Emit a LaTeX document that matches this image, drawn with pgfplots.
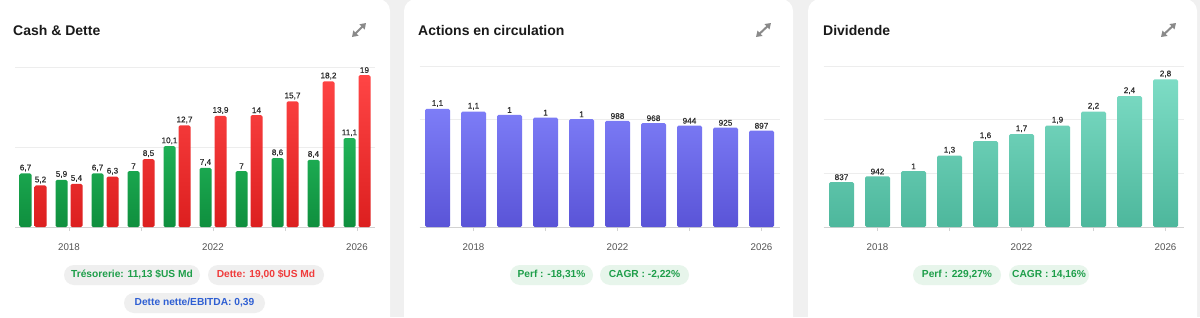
\documentclass[border=0pt]{standalone}
\usepackage{pgfplots}
\pgfplotsset{compat=1.18}
\usepackage{pgfplotstable}
\usepackage{fontspec}
\setmainfont{Liberation Sans}
\newfontfamily\semib[FakeBold=0.35]{Liberation Sans}
\usetikzlibrary{arrows.meta}

\definecolor{pagebg}{HTML}{F0F0F0}
\definecolor{gridc}{HTML}{EDEDED}
\definecolor{axisc}{HTML}{D2D2D2}
\definecolor{tickc}{HTML}{555555}
\definecolor{greenTop}{HTML}{20B358}
\definecolor{greenBot}{HTML}{0F8F3E}
\definecolor{redTop}{HTML}{FF4545}
\definecolor{redBot}{HTML}{DC1F1F}
\definecolor{purpTop}{HTML}{7D7DF7}
\definecolor{purpBot}{HTML}{5A54D7}
\definecolor{tealTop}{HTML}{7DDCC5}
\definecolor{tealBot}{HTML}{4DB79C}
\definecolor{pillgray}{HTML}{EFEFEF}
\definecolor{pillgreen}{HTML}{E7F5EB}
\definecolor{txtgreen}{HTML}{1E9E4A}
\definecolor{txtred}{HTML}{F03C3C}
\definecolor{txtblue}{HTML}{2F5FD3}
\definecolor{titlec}{HTML}{1A1A1A}
\definecolor{iconc}{HTML}{8A8A8A}
\definecolor{labc}{HTML}{2B2B2B}

\pgfplotstableread{
x cash cashlab debt debtlab
2017 6.7 6,7 5.2 5,2
2018 5.9 5,9 5.4 5,4
2019 6.7 6,7 6.3 6,3
2020 7.0 7 8.5 8,5
2021 10.1 10,1 12.7 12,7
2022 7.4 7,4 13.9 13,9
2023 7.0 7 14.0 14
2024 8.6 8,6 15.7 15,7
2025 8.4 8,4 18.2 18,2
2026 11.1 11,1 19.0 19
}\cashdata

\pgfplotstableread{
x y lab
2017 1100 1,1
2018 1075 1,1
2019 1045 1
2020 1020 1
2021 1005 1
2022 988 988
2023 968 968
2024 944 944
2025 925 925
2026 897 897
}\sharesdata

\pgfplotstableread{
x y lab
2017 0.837 837
2018 0.942 942
2019 1.04 1
2020 1.33 1,3
2021 1.60 1,6
2022 1.73 1,7
2023 1.89 1,9
2024 2.15 2,2
2025 2.44 2,4
2026 2.75 2,8
}\divdata

\pgfplotsset{
  panel/.style={
    scale only axis, width=360pt, anchor=south west,
    xmin=2016.5, xmax=2026.5,
    axis x line*=bottom, axis y line*=left,
    y axis line style={draw=none},
    x axis line style={draw=axisc, line width=0.8pt},
    xtick={2018,2020,2022,2024,2026},
    xticklabels={2018,,2022,,2026},
    tick align=outside, major tick length=4pt,
    xtick style={draw=axisc, line width=0.8pt},
    ytick style={draw=none},
    yticklabels={}, scaled y ticks=false,
    ymajorgrids, grid style={draw=gridc, line width=0.8pt},
    xticklabel style={font=\fontsize{9.75}{11}\selectfont, text=tickc, yshift=-9pt},
    clip=false,
    ybar,
    point meta=explicit symbolic,
    nodes near coords,
    every node near coord/.append style={font=\semib\fontsize{8.2}{9}\selectfont, text=labc, inner sep=1.8pt},
  },
}
\tikzset{
  pill/.style={rounded corners=10pt, minimum height=20pt, inner sep=0pt,
    font=\bfseries\fontsize{10.2}{12}\selectfont},
  ttl/.style={anchor=base west, inner sep=0pt, font=\bfseries\fontsize{14}{16}\selectfont, text=titlec},
  icon/.style={draw=iconc, line width=2pt, {Triangle[width=7pt,length=5.5pt]}-{Triangle[width=7pt,length=5.5pt]}},
}

\begin{document}
\begin{tikzpicture}[x=1pt,y=1pt]
\useasboundingbox (0,0) rectangle (1200,317);
\clip (0,0) rectangle (1200,317);
\fill[pagebg] (0,0) rectangle (1200,317);
\fill[white, rounded corners=12pt] (-20,-20) rectangle (390,318);
\fill[white, rounded corners=12pt] (404,-20) rectangle (793,318);
\fill[white, rounded corners=12pt] (808,-20) rectangle (1197,318);

% titles
\node[ttl] at (13,282) {Cash \& Dette};
\node[ttl] at (418,282) {Actions en circulation};
\node[ttl] at (823,282) {Dividende};

% icons
\draw[icon] (352,280) -- (366,294);
\draw[icon] (756,280) -- (771,294);
\draw[icon] (1161,280) -- (1176,294);

% Panel 1
\begin{axis}[panel, at={(15pt,90pt)}, height=160pt, ymin=0, ymax=20, ytick={0,10,20}]
\addplot[draw=none, top color=greenTop, bottom color=greenBot, bar width=12pt, bar shift=-7.5pt, rounded corners=1.5pt]
  table[x=x, y=cash, meta=cashlab] {\cashdata};
\addplot[draw=none, top color=redTop, bottom color=redBot, bar width=12pt, bar shift=7.5pt, rounded corners=1.5pt]
  table[x=x, y=debt, meta=debtlab] {\cashdata};
\end{axis}

% Panel 2
\begin{axis}[panel, at={(419.5pt,90pt)}, height=161pt, ymin=0, ymax=1500, ytick={0,500,1000,1500}]
\addplot[draw=none, top color=purpTop, bottom color=purpBot, bar width=25pt, bar shift=0pt, rounded corners=1.5pt]
  table[x=x, y=y, meta=lab] {\sharesdata};
\end{axis}

% Panel 3
\begin{axis}[panel, at={(823.5pt,90pt)}, height=161pt, ymin=0, ymax=3, ytick={0,1,2,3}]
\addplot[draw=none, top color=tealTop, bottom color=tealBot, bar width=25pt, bar shift=0pt, rounded corners=1.5pt]
  table[x=x, y=y, meta=lab] {\divdata};
\end{axis}

% pills
\node[pill, fill=pillgray, minimum width=136pt, text=txtgreen] at (132,42) {Trésorerie: 11,13 \$US Md};
\node[pill, fill=pillgray, minimum width=116pt, text=txtred] at (266,42) {Dette: 19,00 \$US Md};
\node[pill, fill=pillgray, minimum width=141pt, text=txtblue] at (194.5,14) {Dette nette/EBITDA: 0,39};
\node[pill, fill=pillgreen, minimum width=83pt, text=txtgreen] at (551.5,42) {Perf : -18,31\%};
\node[pill, fill=pillgreen, minimum width=89pt, text=txtgreen] at (644.5,42) {CAGR : -2,22\%};
\node[pill, fill=pillgreen, minimum width=88pt, text=txtgreen] at (957,42) {Perf : 229,27\%};
\node[pill, fill=pillgreen, minimum width=80pt, text=txtgreen] at (1049,42) {CAGR : 14,16\%};
\end{tikzpicture}
\end{document}
